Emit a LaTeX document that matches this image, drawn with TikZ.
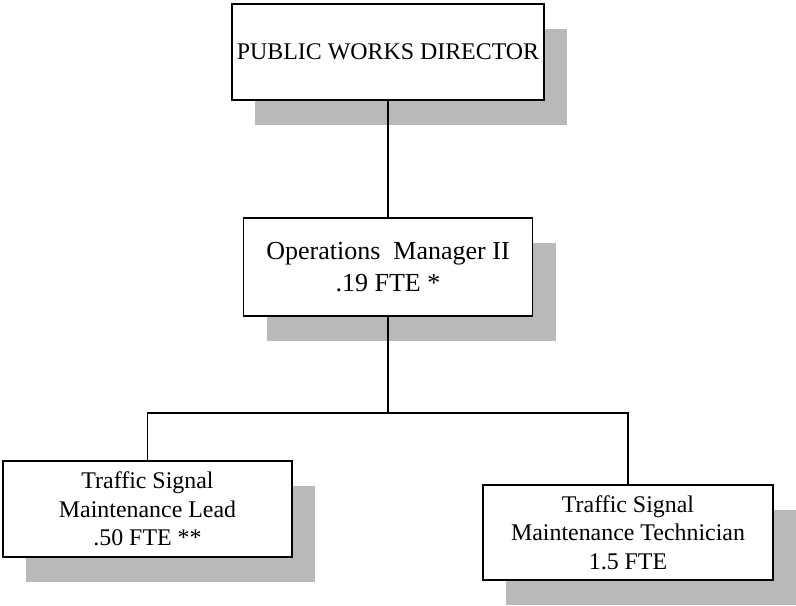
\documentclass[tikz,border=0pt]{standalone}
\usepackage{fontspec}
\setmainfont{Liberation Serif}
\usetikzlibrary{shadows}

\tikzset{
  post/.style={draw, line width=1.2pt, fill=white, align=center, inner sep=0pt,
    font=\fontsize{17}{20.3}\selectfont,
    drop shadow={shadow xshift=0.575cm, shadow yshift=-0.625cm, fill=gray!55, opacity=1}},
  link/.style={line width=1.2pt}
}

\begin{document}
\begin{tikzpicture}
  \useasboundingbox (0,0) rectangle (19.9,-15.125);

  % chart boxes
  \node[post, minimum width=7.8cm, minimum height=2.4cm] (director) at (9.7,-1.3) {PUBLIC WORKS DIRECTOR};
  \node[post, minimum width=7.225cm, minimum height=2.45cm, font=\fontsize{18.5}{22.75}\selectfont] (manager) at (9.7,-6.675) {Operations\ \ Manager II\\.19 FTE *};
  \node[post, minimum width=7.225cm, minimum height=2.4cm] (lead) at (3.6875,-12.725) {Traffic Signal\\Maintenance Lead\\.50 FTE **};
  \node[post, minimum width=7.25cm, minimum height=2.375cm] (tech) at (15.7,-13.3125) {Traffic Signal\\Maintenance Technician\\1.5 FTE};

  % reporting lines
  \coordinate (split) at (9.7,-10.325);
  \draw[link] (director.south) -- (manager.north);
  \draw[link] (manager.south) -- (split);
  \draw[link] (lead.north) |- (split) -| (tech.north);
\end{tikzpicture}
\end{document}
